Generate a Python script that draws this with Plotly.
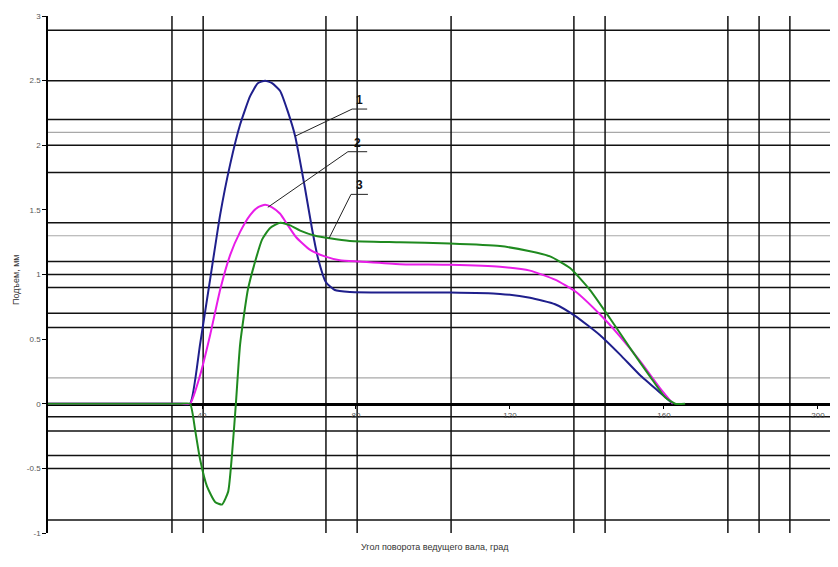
import plotly.graph_objects as go

# ---- data ----
x_curve1 = [0, 30, 34.5, 36.9, 39.5, 42.1, 44.7, 47.3, 49.9, 52.5, 54.5, 56.4, 58.2, 60.3, 62.3, 64.2, 66.8,
            68.6, 70.1, 72.2, 74.5, 78.4, 91.4, 104.4, 117.4, 125.2, 131.7, 136.9, 143.4, 148.6,
            153.8, 159.0, 162.3]
y_curve1 = [0, 0, 0, 0, 0.46, 0.96, 1.46, 1.85, 2.16, 2.38, 2.48, 2.50, 2.48, 2.42, 2.26, 2.07, 1.66,
            1.35, 1.13, 0.94, 0.88, 0.865, 0.86, 0.86, 0.85, 0.82, 0.77, 0.68, 0.53, 0.38,
            0.22, 0.085, 0]

x_curve2 = [0, 30, 34.5, 36.9, 39.5, 42.1, 44.7, 47.3, 49.9, 52.5, 54.5, 56.4, 58.2, 60.3, 62.1, 64.4, 68.1,
            71.9, 75.8, 81.0, 91.4, 104.4, 117.4, 125.2, 131.7, 136.9, 143.4, 148.6, 153.8,
            159.0, 162.3]
y_curve2 = [0, 0, 0, 0, 0.22, 0.53, 0.88, 1.15, 1.33, 1.46, 1.52, 1.54, 1.52, 1.47, 1.39, 1.29, 1.19,
            1.14, 1.11, 1.10, 1.08, 1.075, 1.06, 1.03, 0.96, 0.87, 0.69, 0.52, 0.33,
            0.12, 0]

x_curve3 = [0, 30, 34.5, 36.9, 38.2, 39.5, 41.3, 43.4, 45.2, 46.8, 47.8, 48.8, 49.9, 51.9, 53.8, 55.6, 57.7,
            60.3, 62.9, 65.5, 69.4, 73.2, 78.4, 91.4, 104.4, 117.4, 125.2, 130.4, 135.6, 140.8,
            146.0, 151.2, 156.4, 160.3, 162.9, 165.5]
y_curve3 = [0, 0, 0, 0, -0.20, -0.43, -0.64, -0.76, -0.78, -0.68, -0.39, 0, 0.46, 0.88, 1.10, 1.27, 1.36,
            1.40, 1.38, 1.34, 1.30, 1.28, 1.26, 1.25, 1.24, 1.22, 1.18, 1.14, 1.05, 0.88,
            0.66, 0.43, 0.21, 0.05, 0, 0]

curve_names = ["1", "2", "3"]
curve_colors = ["#1f1f8c", "#e81ce8", "#1f8a1f"]

x_tick_vals = [40, 80, 120, 160, 200]
x_tick_text = ["40", "80", "120", "160", "200"]
y_tick_vals = [3, 2.5, 2, 1.5, 1, 0.5, 0, -0.5, -1]
y_tick_text = ["3", "2.5", "2", "1.5", "1", "0.5", "0", "-0.5", "-1"]

# grid lines of the scanned sheet
h_dark = [2.89, 2.50, 2.20, 2.0, 1.79, 1.40, 1.10, 1.0, 0.90, 0.70, 0.59, -0.10, -0.21, -0.40, -0.50, -0.90]
h_gray = [2.10, 1.30, 0.20]
v_dark = [32.2, 40.3, 72.2, 80.3, 104.7, 136.6, 144.7, 176.6, 184.7, 192.7]

# leader labels: text, (underline x0, x1, y), (curve point x, y)
label_text = ["1", "2", "3"]
label_under = [(79.0, 82.9, 2.28), (77.9, 82.9, 1.95), (78.7, 83.1, 1.62)]
label_point = [(64.2, 2.07), (57.1, 1.52), (73.0, 1.28)]

X_MAX = 205.2
FONT = "Liberation Sans, Arial, sans-serif"

fig = go.Figure()

shapes = []
for y in h_dark:
    shapes.append(dict(type="line", xref="x", yref="y", x0=0, x1=X_MAX, y0=y, y1=y,
                       line=dict(color="#111111", width=1.5), layer="below"))
for y in h_gray:
    shapes.append(dict(type="line", xref="x", yref="y", x0=0, x1=X_MAX, y0=y, y1=y,
                       line=dict(color="#a8a8a8", width=1.2), layer="below"))
for x in v_dark:
    shapes.append(dict(type="line", xref="x", yref="y", x0=x, x1=x, y0=-1, y1=3,
                       line=dict(color="#111111", width=1.5), layer="below"))

for (x0, x1, yu), (px, py) in zip(label_under, label_point):
    shapes.append(dict(type="line", xref="x", yref="y", x0=x0, x1=x1, y0=yu, y1=yu,
                       line=dict(color="#222222", width=1)))
    shapes.append(dict(type="line", xref="x", yref="y", x0=x0, x1=px, y0=yu, y1=py,
                       line=dict(color="#222222", width=1)))

xs = [x_curve1, x_curve2, x_curve3]
ys = [y_curve1, y_curve2, y_curve3]
for xv, yv, nm, col in zip(xs, ys, curve_names, curve_colors):
    fig.add_trace(go.Scatter(x=xv, y=yv, mode="lines", name=nm,
                             line=dict(color=col, width=2, shape="spline", smoothing=0.5)))

annotations = []
for t, (x0, x1, yu) in zip(label_text, label_under):
    annotations.append(dict(x=(x0 + x1) / 2, y=yu, xref="x", yref="y", text="<b>" + t + "</b>",
                            showarrow=False, yanchor="bottom",
                            font=dict(family=FONT, size=12, color="#111111")))

# plot area on screen: x 48..838, y 16..533 (page body adds 8px offset)
annotations.append(dict(x=(435 - 48) / 790, y=-(547 - 533) / 517, xref="paper", yref="paper",
                        text="Угол поворота ведущего вала, град", showarrow=False,
                        xanchor="center", yanchor="middle",
                        font=dict(family=FONT, size=9, color="#333333")))
annotations.append(dict(x=-(48 - 16) / 790, y=(533 - 280) / 517, xref="paper", yref="paper",
                        text="Подъем, мм", textangle=-90, showarrow=False,
                        xanchor="center", yanchor="middle",
                        font=dict(family=FONT, size=9, color="#333333")))

fig.update_layout(
    width=830, height=559,
    margin=dict(l=40, r=0, t=8, b=34),
    paper_bgcolor="white", plot_bgcolor="white",
    showlegend=False,
    shapes=shapes,
    annotations=annotations,
    xaxis=dict(range=[0, X_MAX], anchor="free", position=0.25, showgrid=False, zeroline=False,
               showline=True, linecolor="#000000", linewidth=3, layer="below traces",
               tickvals=x_tick_vals, ticktext=x_tick_text, ticks="outside", ticklen=3,
               tickcolor="#000000", tickfont=dict(family=FONT, size=8, color="#555555"),
               automargin=False),
    yaxis=dict(range=[-1, 3], showgrid=False, zeroline=False,
               showline=True, linecolor="#000000", linewidth=1.5, layer="below traces",
               tickvals=y_tick_vals, ticktext=y_tick_text, ticks="outside", ticklen=4,
               tickcolor="#000000", tickfont=dict(family=FONT, size=8, color="#555555"),
               automargin=False),
)

fig.write_html("out.html")
